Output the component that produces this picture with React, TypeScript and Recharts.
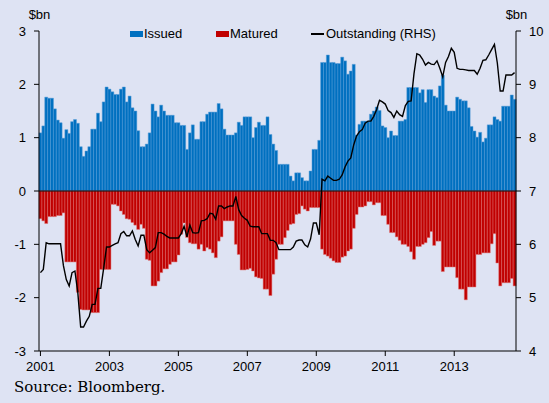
import React from 'react';
import { ComposedChart, Bar, Line, XAxis, YAxis, ReferenceLine } from 'recharts';

const START_YEAR = 2001;
const MONTH_COUNT = 166;
const categories = Array.from({ length: MONTH_COUNT }, (_, i) => {
  const y = START_YEAR + Math.floor(i / 12);
  const m = (i % 12) + 1;
  return `${y}-${m < 10 ? '0' + m : m}`;
});

const yearTicks = ['2001', '2003', '2005', '2007', '2009', '2011', '2013'];
const leftTicks = [-3, -2, -1, 0, 1, 2, 3];
const rightTicks = [4, 5, 6, 7, 8, 9, 10];

// $bn, monthly
const issued = [
  1.09, 1.22, 1.76, 1.74, 1.74, 1.54, 1.33, 1.28, 0.99, 1.15,
  1.08, 1.30, 1.34, 1.27, 0.83, 0.65, 0.75, 0.83, 1.16, 1.16,
  1.46, 1.30, 1.67, 1.95, 1.91, 1.86, 1.81, 1.81, 1.91, 1.95,
  1.67, 1.78, 1.56, 1.50, 1.13, 0.83, 0.83, 0.88, 1.09, 1.63,
  1.50, 1.39, 1.61, 1.50, 1.42, 1.42, 1.42, 1.28, 1.28, 1.23,
  1.23, 0.78, 1.09, 1.24, 0.97, 0.97, 1.30, 1.30, 1.44, 1.48,
  1.48, 1.48, 1.64, 1.54, 1.16, 1.05, 1.05, 1.05, 1.09, 1.29,
  1.23, 1.39, 1.39, 1.39, 1.00, 1.19, 1.29, 1.23, 1.23, 1.39,
  1.06, 0.88, 0.76, 0.50, 0.50, 0.50, 0.50, 0.28, 0.19, 0.34,
  0.34, 0.25, 0.19, 0.19, 0.375, 0.78, 0.78, 0.95, 2.41, 2.41,
  2.55, 2.41, 2.41, 2.39, 2.39, 2.51, 2.44, 2.19, 2.25, 2.375,
  1.05, 1.25,
  1.31, 1.31, 1.31, 1.44, 1.50, 1.575, 1.51, 1.22, 1.19, 1.00,
  1.125, 1.04, 1.04, 1.31, 1.31, 1.34, 1.94, 1.94, 1.94, 1.94,
  1.84, 1.90, 1.66, 1.90, 1.90, 1.78, 1.75, 1.97, 2.17, 1.61,
  1.50, 1.50, 1.50, 1.76, 1.72, 1.69, 1.69, 1.56, 1.21, 1.125,
  1.01, 1.10, 0.92, 0.99, 1.24, 1.24, 1.39, 1.34, 1.31, 1.59,
  1.59, 1.59, 1.80, 1.72,
];

const matured = [
  -0.52, -0.56, -0.61, -0.48, -0.48, -0.48, -0.46, -0.46, -0.41, -1.33,
  -1.33, -1.33, -1.33, -1.9, -2.22, -2.23, -2.23, -2.23, -2.28, -2.28,
  -2.28, -1.47, -1.47, -1.47, -1.47, -0.25, -0.25, -0.28, -0.375, -0.44,
  -0.52, -0.53, -0.59, -0.64, -0.72, -0.625, -0.7, -1.28, -1.3, -1.78,
  -1.78, -1.69, -1.53, -1.46, -1.46, -1.375, -1.33, -1.33, -1.2, -0.81,
  -0.6, -0.87, -0.97, -0.99, -0.99, -1.09,
  -1.0, -1.125, -1.06, -1.09, -1.16, -1.25, -0.94, -0.86, -0.56, -0.56,
  -0.56, -0.56, -1.0, -1.19, -1.48, -1.48, -1.47, -1.45, -1.5, -1.61,
  -1.63, -1.64, -1.84, -1.84, -1.96, -1.56,
  -1.28, -1.0, -1.0, -0.875, -0.74, -0.625, -0.61, -0.44, -0.425, -0.28,
  -0.34, -0.375, -0.31, -0.31, -0.31, -0.31,
  -1.09, -1.19, -1.22, -1.26, -1.31, -1.34, -1.34, -1.24, -1.22, -1.125,
  -1.09, -0.7, -0.44, -0.3,
  -0.3, -0.28, -0.2, -0.2, -0.26, -0.22, -0.22, -0.46, -0.46, -0.625,
  -0.78, -0.78, -0.86, -0.925, -1.0, -1.0, -1.04, -1.14, -1.28, -1.04,
  -1.04, -1.0, -0.97, -0.875, -0.76, -1.02, -0.94, -0.94, -1.51, -1.425,
  -1.425, -1.425, -1.425, -1.625, -1.84, -1.84, -2.04, -1.8, -1.8, -1.8,
  -1.19, -1.19, -1.16, -1.16, -1.16, -0.99, -0.8, -1.35, -1.78, -1.72,
  -1.72, -1.72, -1.64, -1.78,
];

// RHS
const outstanding = [
  5.47, 5.53, 6.03, 6.01, 6.01, 6.01, 6.01, 6.01, 5.6, 5.34,
  5.22, 5.47, 5.5, 5.1, 4.45, 4.45, 4.56, 4.65, 4.875, 4.875,
  5.175, 5.175, 5.55, 5.95, 5.95, 5.98, 6.01, 6.03, 6.2, 6.24,
  6.16, 6.16, 6.25, 6.09, 5.97, 6.17, 6.17, 5.9, 5.84, 5.89,
  5.94, 6.22, 6.22, 6.19, 6.15, 6.12, 6.12, 6.12, 6.12, 6.2,
  6.34, 6.14, 6.36, 6.22, 6.21, 6.22, 6.44, 6.45, 6.48, 6.58,
  6.57, 6.47, 6.72, 6.72, 6.67, 6.7, 6.72, 6.72, 6.9, 6.65,
  6.54, 6.49, 6.45, 6.34, 6.33, 6.33, 6.33, 6.2, 6.2, 6.2,
  6.075, 6.075, 6.03,
  5.9, 5.9, 5.9, 5.9, 5.9, 5.95, 6.06, 6.08, 6.08, 5.99,
  5.95, 6.1, 6.4, 6.4, 6.18,
  7.22, 7.19, 7.28, 7.24, 7.2, 7.2, 7.22, 7.3, 7.45, 7.56,
  7.62, 7.86, 8.03,
  8.11, 8.15, 8.27, 8.31, 8.31, 8.4, 8.53, 8.7, 8.67, 8.63,
  8.51, 8.47, 8.38, 8.5, 8.43, 8.4, 8.6, 8.68, 8.69, 9.2,
  9.575, 9.55, 9.47, 9.36, 9.41, 9.38, 9.37, 9.44, 9.3, 9.14,
  9.41, 9.52, 9.675, 9.6, 9.3, 9.28, 9.28, 9.27, 9.26, 9.26,
  9.26, 9.19, 9.3, 9.45, 9.46, 9.55, 9.65, 9.75, 9.4, 8.875,
  8.875, 9.175, 9.175, 9.175, 9.22,
];

const data = categories.map((month, i) => ({
  month,
  issued: issued[i],
  matured: matured[i],
  outstanding: outstanding[i],
}));

const BG = '#dee3f3';
const SANS = '"Liberation Sans", Arial, sans-serif';
const tickStyle = { fill: '#000', fontSize: 13, fontFamily: SANS };

export default function App() {
  return (
    <div
      style={{
        position: 'absolute',
        left: 0,
        top: 0,
        width: 549,
        height: 403,
        background: BG,
        fontFamily: SANS,
        overflow: 'hidden',
      }}
    >
      <ComposedChart
        width={549}
        height={381}
        data={data}
        margin={{ top: 31, right: 0, left: 0, bottom: 0 }}
        stackOffset="sign"
        barCategoryGap={0}
      >
        <XAxis
          dataKey="month"
          interval={23}
          tickFormatter={(v: string) => v.slice(0, 4)}
          height={30}
          tick={tickStyle}
          tickSize={5}
          tickMargin={6}
          axisLine={{ stroke: '#000' }}
          tickLine={{ stroke: '#000' }}
        />
        <YAxis
          yAxisId="l"
          domain={[-3, 3]}
          ticks={leftTicks}
          width={39}
          tick={tickStyle}
          tickSize={5}
          tickMargin={8}
          axisLine={{ stroke: '#000' }}
          tickLine={{ stroke: '#000' }}
        />
        <YAxis
          yAxisId="r"
          orientation="right"
          domain={[4, 10]}
          ticks={rightTicks}
          width={33}
          tick={tickStyle}
          tickSize={5}
          tickMargin={8}
          axisLine={{ stroke: '#000' }}
          tickLine={{ stroke: '#000' }}
        />
        <Bar
          yAxisId="l"
          dataKey="issued"
          stackId="a"
          fill="#0070c0"
          stroke="#5b9fd8"
          strokeWidth={0.5}
          isAnimationActive={false}
        />
        <Bar
          yAxisId="l"
          dataKey="matured"
          stackId="a"
          fill="#c00000"
          stroke="#e07474"
          strokeWidth={0.5}
          isAnimationActive={false}
        />
        <ReferenceLine yAxisId="l" y={0} stroke="#000" strokeWidth={1.2} />
        <Line
          yAxisId="r"
          dataKey="outstanding"
          type="linear"
          stroke="#000"
          strokeWidth={1.4}
          dot={false}
          isAnimationActive={false}
        />
      </ComposedChart>

      <div style={{ position: 'absolute', left: 0, width: 79, top: 7, textAlign: 'center', fontSize: 13 }}>$bn</div>
      <div style={{ position: 'absolute', left: 477, width: 79, top: 7, textAlign: 'center', fontSize: 13 }}>$bn</div>

      <div style={{ position: 'absolute', left: 130, top: 31, width: 13, height: 6, background: '#0070c0' }} />
      <div style={{ position: 'absolute', left: 144, top: 26, fontSize: 13 }}>Issued</div>
      <div style={{ position: 'absolute', left: 216, top: 31, width: 13, height: 6, background: '#c00000' }} />
      <div style={{ position: 'absolute', left: 230, top: 26, fontSize: 13 }}>Matured</div>
      <div style={{ position: 'absolute', left: 311, top: 33, width: 13, height: 1.5, background: '#000' }} />
      <div style={{ position: 'absolute', left: 326, top: 26, fontSize: 13 }}>Outstanding (RHS)</div>

      <div
        style={{
          position: 'absolute',
          left: 14,
          top: 378,
          fontSize: 15,
          fontFamily: '"DejaVu Serif", serif',
        }}
      >
        Source: Bloomberg.
      </div>
    </div>
  );
}
